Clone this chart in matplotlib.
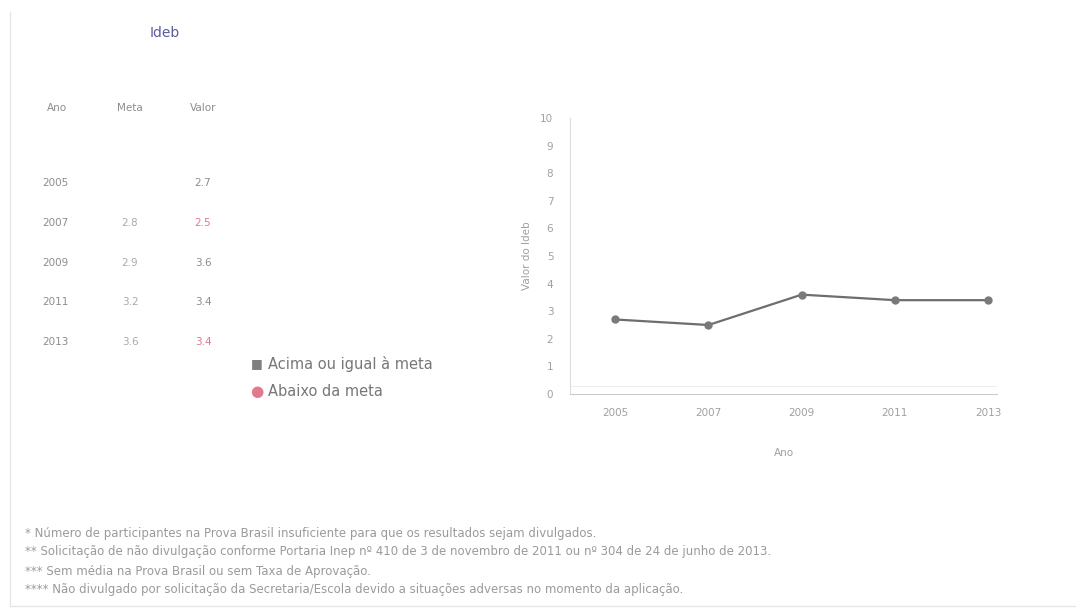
import numpy as np
import matplotlib.pyplot as plt

anos = [2005, 2007, 2009, 2011, 2013]
metas = [None, 2.8, 2.9, 3.2, 3.6]
valores = [2.7, 2.5, 3.6, 3.4, 3.4]
yticks = list(range(0, 11))

notas = [
    "* Número de participantes na Prova Brasil insuficiente para que os resultados sejam divulgados.",
    "** Solicitação de não divulgação conforme Portaria Inep nº 410 de 3 de novembro de 2011 ou nº 304 de 24 de junho de 2013.",
    "*** Sem média na Prova Brasil ou sem Taxa de Aprovação.",
    "**** Não divulgado por solicitação da Secretaria/Escola devido a situações adversas no momento da aplicação.",
]

grey = '#8c8c8c'
red = '#e07a8c'
W, H = 1080, 614

fig = plt.figure(figsize=(10.8, 6.14), dpi=100)
fig.patch.set_facecolor('white')


def fx(px):
    return px / W


def fy(py):
    return 1 - py / H


# faint frame
fig.add_artist(plt.Line2D([fx(10), fx(10)], [fy(12), fy(606)], color='#e6e6e6', lw=1))
fig.add_artist(plt.Line2D([fx(10), fx(1075)], [fy(606), fy(606)], color='#e6e6e6', lw=1))

# table on the left
fig.text(fx(165), fy(33), "Ideb", ha='center', va='center', fontsize=10, color='#5b5b9b')
for x, h in zip([57, 130, 203], ["Ano", "Meta", "Valor"]):
    fig.text(fx(x), fy(108), h, ha='center', va='center', fontsize=7.5, color=grey)
for i, (ano, meta, val) in enumerate(zip(anos, metas, valores)):
    y = 183 + i * 39.8
    fig.text(fx(55), fy(y), str(ano), ha='center', va='center', fontsize=7.5, color=grey)
    if meta is not None:
        fig.text(fx(130), fy(y), f"{meta:.1f}", ha='center', va='center', fontsize=7.5, color='#aaaaaa')
    c = red if (meta is not None and val < meta) else grey
    fig.text(fx(203), fy(y), f"{val:.1f}", ha='center', va='center', fontsize=7.5, color=c)

# legend
fig.text(fx(257), fy(364), "\u25A0", ha='center', va='center', fontsize=9, color='#7f7f7f')
fig.text(fx(268), fy(364), "Acima ou igual à meta", ha='left', va='center', fontsize=10.5, color='#777777')
fig.text(fx(257), fy(391), "\u25CF", ha='center', va='center', fontsize=11, color=red)
fig.text(fx(268), fy(391), "Abaixo da meta", ha='left', va='center', fontsize=10.5, color='#777777')

# line chart
ax = fig.add_axes([fx(570), fy(394), fx(997) - fx(570), fy(118) - fy(394)])
ax.plot(anos, valores, color='#6e6e6e', lw=1.6, marker='o', markersize=5,
        markerfacecolor='#7a7a7a', markeredgecolor='#7a7a7a')
ax.set_xlim(2004.03, 2013.19)
ax.set_ylim(0, 10)
ax.set_xticks(anos)
ax.set_yticks(yticks)
ax.tick_params(axis='both', length=0, labelsize=7.5, colors='#a0a0a0', pad=10)
ax.tick_params(axis='y', pad=12)
for s in ['top', 'right']:
    ax.spines[s].set_visible(False)
ax.spines['left'].set_color('#dddddd')
ax.spines['bottom'].set_color('#cccccc')
ax.axhline(0.3, color='#eeeeee', lw=0.8)
ax.set_ylabel("Valor do Ideb", fontsize=7.5, color='#a0a0a0', labelpad=6)
ax.set_xlabel("Ano", fontsize=7.5, color='#a0a0a0', labelpad=22)

# footnotes
for i, t in enumerate(notas):
    fig.text(fx(25), fy(533 + i * 19), t, ha='left', va='center', fontsize=8.5, color='#9a9a9a')

fig.savefig('out.png', dpi=100, facecolor='white')
